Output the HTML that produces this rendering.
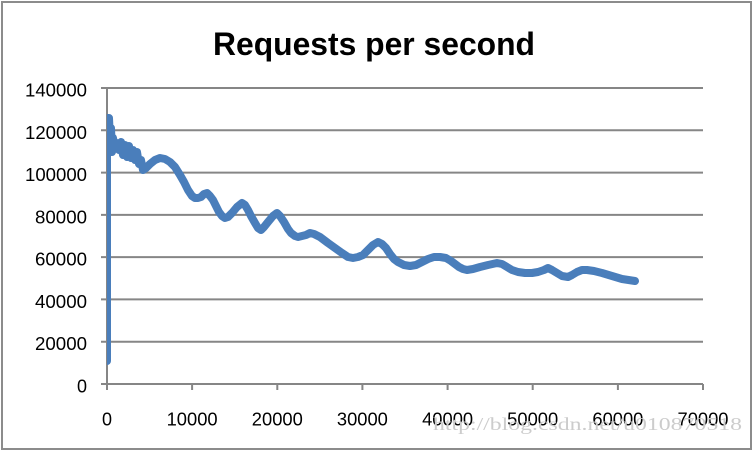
<!DOCTYPE html>
<html><head><meta charset="utf-8"><style>
html,body{margin:0;padding:0;background:#fff;}
svg{display:block;}
</style></head><body>
<svg width="754" height="453" viewBox="0 0 754 453" xmlns="http://www.w3.org/2000/svg">
<rect x="0" y="0" width="754" height="453" fill="#fff"/>
<rect x="2" y="2" width="749" height="447" fill="#fff" stroke="#8c8c8c" stroke-width="2"/>
<text x="374" y="55" text-anchor="middle" font-family="Liberation Sans, sans-serif" font-weight="bold" font-size="32" textLength="322" lengthAdjust="spacingAndGlyphs" fill="#000">Requests per second</text>
<g stroke="#868686" stroke-width="2" fill="none">
<line x1="101" y1="88" x2="703" y2="88"/>
<line x1="101" y1="130.3" x2="703" y2="130.3"/>
<line x1="101" y1="172.6" x2="703" y2="172.6"/>
<line x1="101" y1="214.9" x2="703" y2="214.9"/>
<line x1="101" y1="257.1" x2="703" y2="257.1"/>
<line x1="101" y1="299.4" x2="703" y2="299.4"/>
<line x1="101" y1="341.7" x2="703" y2="341.7"/>
<line x1="101" y1="384" x2="703" y2="384"/>
<line x1="107" y1="88" x2="107" y2="390"/>
<line x1="192.1" y1="384" x2="192.1" y2="390"/>
<line x1="277.3" y1="384" x2="277.3" y2="390"/>
<line x1="362.4" y1="384" x2="362.4" y2="390"/>
<line x1="447.6" y1="384" x2="447.6" y2="390"/>
<line x1="532.7" y1="384" x2="532.7" y2="390"/>
<line x1="617.9" y1="384" x2="617.9" y2="390"/>
<line x1="703" y1="384" x2="703" y2="390"/>
</g>
<g font-family="Liberation Sans, sans-serif" font-size="18" fill="#000" text-anchor="end">
<text x="87" y="96.5" textLength="62" lengthAdjust="spacingAndGlyphs">140000</text>
<text x="87" y="138.8" textLength="62" lengthAdjust="spacingAndGlyphs">120000</text>
<text x="87" y="181.1" textLength="62" lengthAdjust="spacingAndGlyphs">100000</text>
<text x="87" y="223.4" textLength="52" lengthAdjust="spacingAndGlyphs">80000</text>
<text x="87" y="265.6" textLength="52" lengthAdjust="spacingAndGlyphs">60000</text>
<text x="87" y="307.9" textLength="52" lengthAdjust="spacingAndGlyphs">40000</text>
<text x="87" y="350.2" textLength="52" lengthAdjust="spacingAndGlyphs">20000</text>
<text x="87" y="392.5">0</text>
</g>
<g font-family="Liberation Sans, sans-serif" font-size="18" fill="#000" text-anchor="middle">
<text x="107" y="425.5">0</text>
<text x="192.1" y="425.5" textLength="51" lengthAdjust="spacingAndGlyphs">10000</text>
<text x="277.3" y="425.5" textLength="51" lengthAdjust="spacingAndGlyphs">20000</text>
<text x="362.4" y="425.5" textLength="51" lengthAdjust="spacingAndGlyphs">30000</text>
<text x="447.6" y="425.5" textLength="51" lengthAdjust="spacingAndGlyphs">40000</text>
<text x="532.7" y="425.5" textLength="51" lengthAdjust="spacingAndGlyphs">50000</text>
<text x="617.9" y="425.5" textLength="51" lengthAdjust="spacingAndGlyphs">60000</text>
<text x="703" y="425.5" textLength="51" lengthAdjust="spacingAndGlyphs">70000</text>
</g>
<defs><clipPath id="pc"><rect x="107" y="80" width="600" height="310"/></clipPath></defs>
<g clip-path="url(#pc)">
<polyline fill="none" stroke="#4a7ebb" stroke-width="8" stroke-linejoin="round" stroke-linecap="round" points="107,361 107,118 109,118 110,140 111,128 112,152 113,138 115,148 117,143 119,150 121,142 123,155 125,145 127,157 129,146 131,158 133,150 135,160 137,152 139,164 141,160 143,170 146,168 150,164 155,160 160,158 165,159 170,162 175,167 180,175 184,182 188,190 192,196 195,198 198,198 201,197 204,194 207,193 210,196 213,200 216,206 219,212 222,216 225,218 228,217 232,213 237,207 242,203 245,205 248,210 251,216 255,223 258,228 261,230 264,227 268,222 273,216 277,213 280,216 284,222 288,229 291,233 295,236 298,237 302,236 306,235 310,233 314,234 320,237 328,243 335,248 342,253 348,257 353,258 358,257 363,255 368,250 373,245 378,242 382,244 386,248 390,254 394,259 398,262 404,265 410,266 416,265 422,262 428,259 434,257 440,257 446,258 451,261 455,264 459,267 463,269 467,270 473,269 480,267 488,265 497,263 502,264 507,267 512,270 518,272 525,273 532,273 538,272 544,270 548,268 552,270 557,273 562,276 568,277 572,275 577,272 582,270 587,270 594,271 602,273 612,276 622,279 635,281"/>
</g>
<text x="433" y="430" font-family="Liberation Serif, serif" font-size="18" fill="#cccccc" textLength="309" lengthAdjust="spacingAndGlyphs">http://blog.csdn.net/u010870518</text>
</svg>
</body></html>
